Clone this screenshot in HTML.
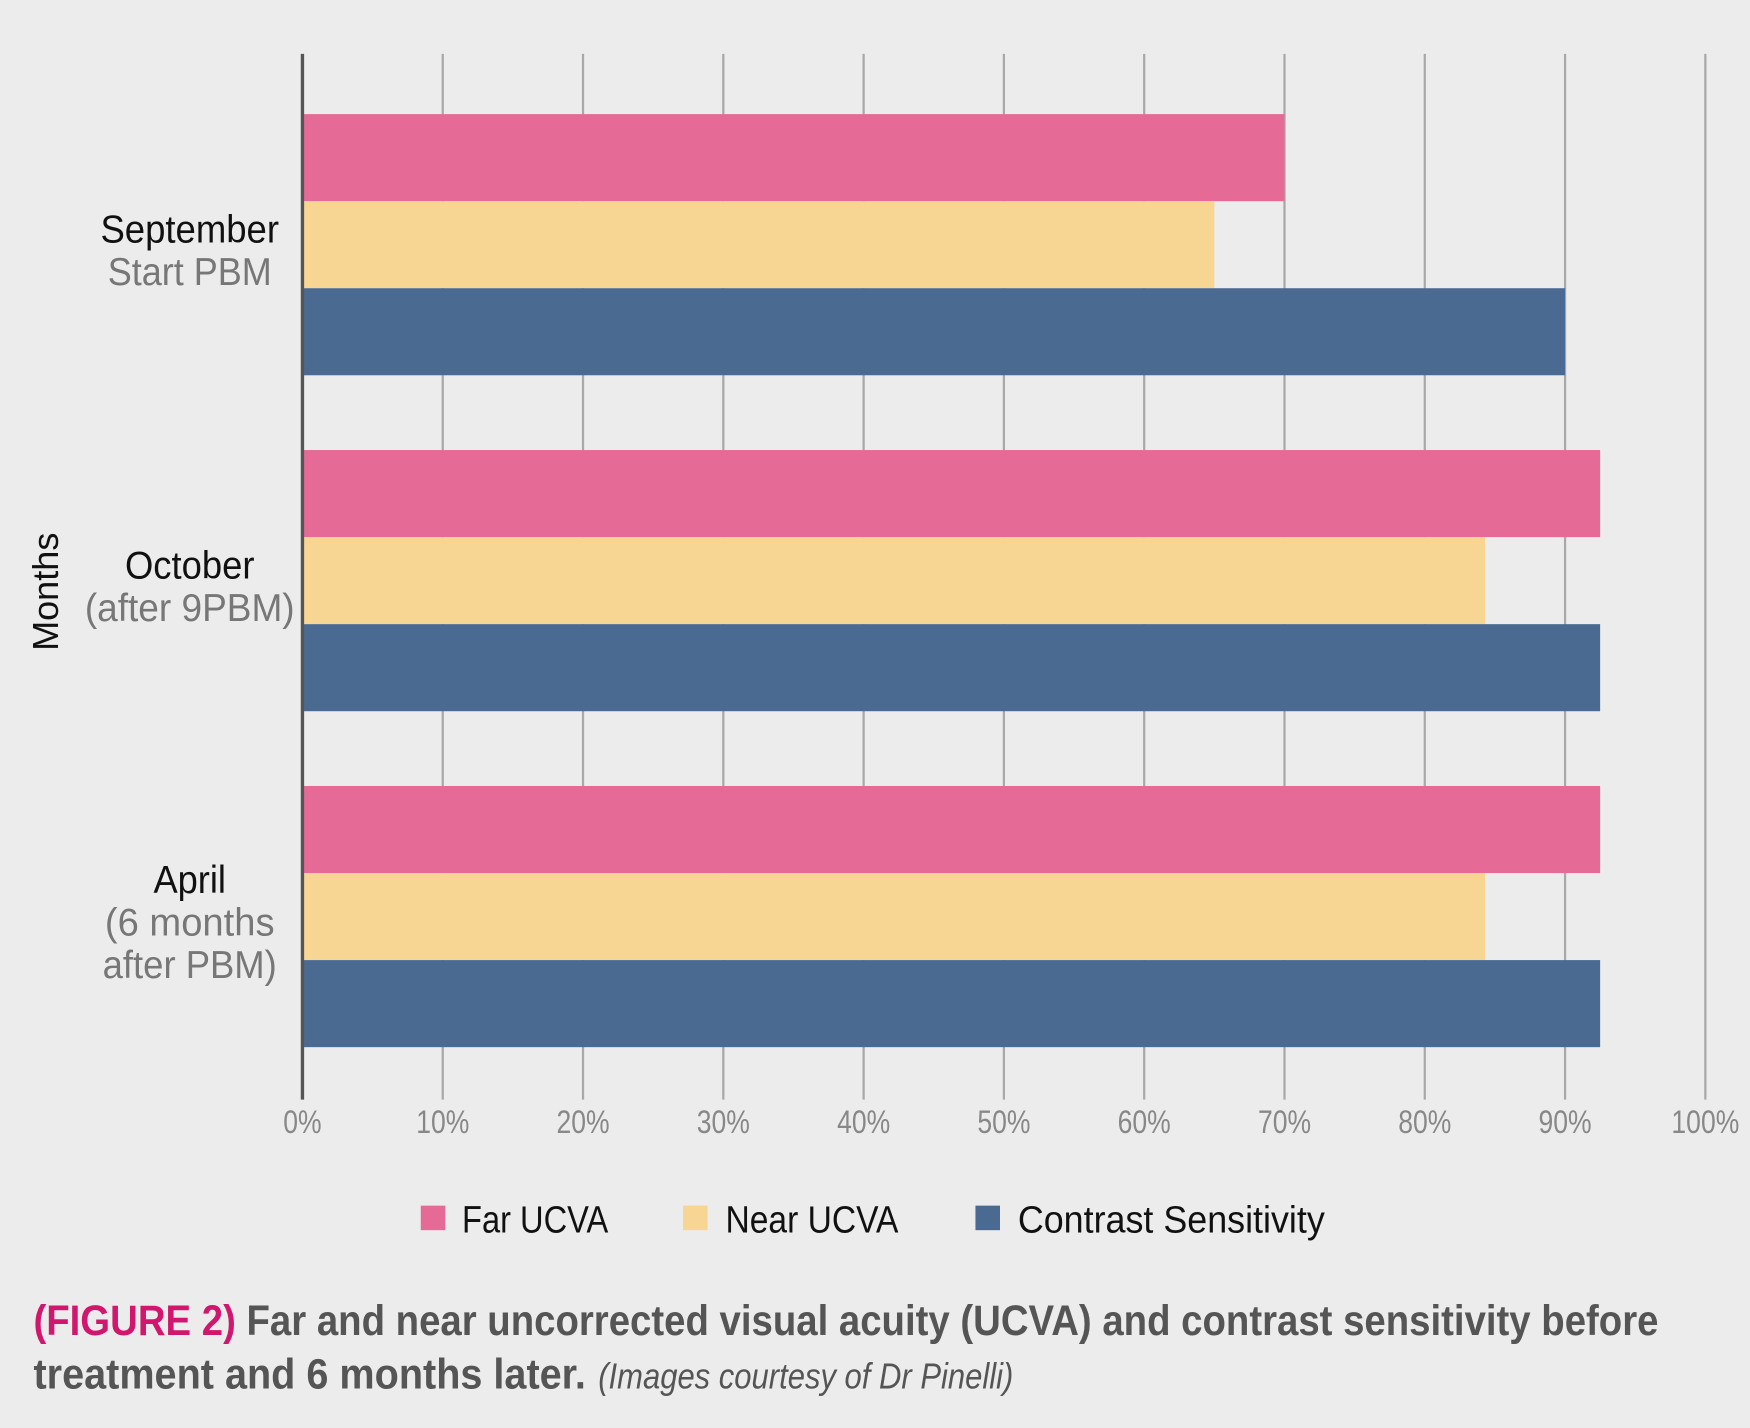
<!DOCTYPE html>
<html><head><meta charset="utf-8"><style>
html,body{margin:0;padding:0;background:#ececec;}
svg{display:block;}
text{font-family:"Liberation Sans Narrow","Liberation Sans",sans-serif;}
</style></head><body>
<svg id="chart" width="1750" height="1428" viewBox="0 0 1568 1279" xmlns="http://www.w3.org/2000/svg">
<rect width="1568" height="1279" fill="#ececec"/>
<g id="grid"></g><g id="bars"></g><g id="labels"></g>
<line x1="271" y1="48" x2="271" y2="985" stroke="#555" stroke-width="3"/>
<text x="52" y="530" font-size="32" fill="#111" text-anchor="middle" transform="rotate(-90 52 530)" textLength="106" lengthAdjust="spacingAndGlyphs">Months</text>
<g>
<rect x="377" y="1080" width="22" height="22" fill="#e66a96"/>
<text x="414" y="1104" font-size="34" fill="#111" textLength="131" lengthAdjust="spacingAndGlyphs">Far UCVA</text>
<rect x="612" y="1080" width="22" height="22" fill="#f7d593"/>
<text x="650" y="1104" font-size="34" fill="#111" textLength="155" lengthAdjust="spacingAndGlyphs">Near UCVA</text>
<rect x="874" y="1080" width="22" height="22" fill="#4b6a91"/>
<text x="912" y="1104" font-size="34" fill="#111" textLength="275" lengthAdjust="spacingAndGlyphs">Contrast Sensitivity</text>
</g>
<text x="30" y="1196" font-size="38" font-weight="bold" fill="#555" textLength="1456" lengthAdjust="spacingAndGlyphs"><tspan fill="#d1166e">(FIGURE 2)</tspan> Far and near uncorrected visual acuity (UCVA) and contrast sensitivity before</text>
<text x="30" y="1244" font-size="38" font-weight="bold" fill="#555"><tspan textLength="495" lengthAdjust="spacingAndGlyphs">treatment and 6 months later.</tspan><tspan x="536" font-weight="normal" font-style="italic" font-size="32" textLength="372" lengthAdjust="spacingAndGlyphs">(Images courtesy of Dr Pinelli)</tspan></text>
</svg>
<script>
const categories = [["September","Start PBM"],["October","(after 9PBM)"],["April","(6 months","after PBM)"]];
const labelWidths = [[160,147],[116,188],[65,152,156]];
const farUCVA = [70, 92.5, 92.5];
const nearUCVA = [65, 84.3, 84.3];
const contrast = [90, 92.5, 92.5];
const ticks = [0,10,20,30,40,50,60,70,80,90,100];
const NS="http://www.w3.org/2000/svg";
const x = v => 271 + v*12.57;
const groupTop = i => 102 + i*301;
const BH = 78;
function mk(tag, attrs, parent){const e=document.createElementNS(NS,tag);for(const k in attrs)e.setAttribute(k,attrs[k]);parent.appendChild(e);return e;}
const grid=document.getElementById('grid'), bars=document.getElementById('bars'), labels=document.getElementById('labels');
ticks.forEach(t=>{
  if(t>0){const l=mk('line',{x1:x(t),x2:x(t),y1:48,y2:985,stroke:'#a8a8a8','stroke-width':2},grid);
  
  }
  const tx=mk('text',{x:0,y:0,'font-size':29,fill:'#888','text-anchor':'middle',transform:'translate('+x(t)+',1015) scale(0.82,1)'},labels);
  tx.textContent=t+'%';
  
  
});
const series=[[farUCVA,'#e66a96','far'],[nearUCVA,'#f7d593','near'],[contrast,'#4b6a91','contrast']];
categories.forEach((c,i)=>{
  series.forEach((s,j)=>{
    const r=mk('rect',{x:271,y:groupTop(i)+j*BH,width:x(s[0][i])-271,height:BH,fill:s[1]},bars);
    
    
  });
  const mid=groupTop(i)+BH*1.5;
  const n=c.length, start=mid-(n-1)*19+17;
  c.forEach((line,k)=>{
    const w=labelWidths[i][k];
    const t=mk('text',{x:170-w/2,y:start+k*38,'font-size':35,fill:k==0?'#111':'#777',textLength:w,lengthAdjust:'spacingAndGlyphs'},labels);
    t.textContent=line;
    
    
  });
});
</script>
</body></html>
